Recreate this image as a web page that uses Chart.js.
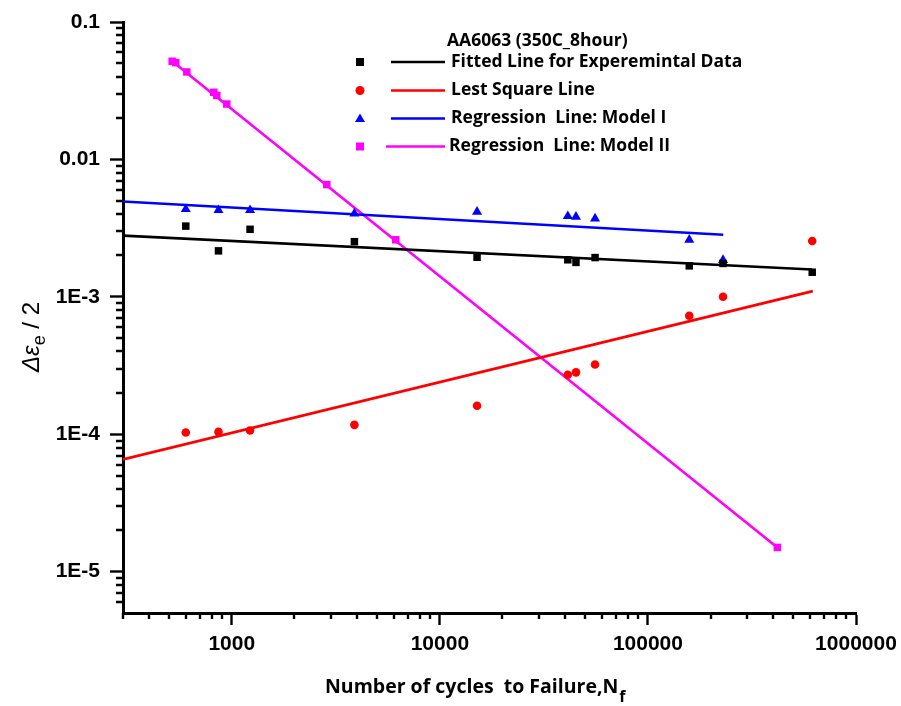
<!DOCTYPE html>
<html>
<head>
<meta charset="utf-8">
<title>AA6063 (350C_8hour)</title>
<script src="https://cdn.jsdelivr.net/npm/chart.js@4.4.1/dist/chart.umd.min.js"></script>
<style>
  html, body { margin: 0; padding: 0; background: #fff; }
  #wrap { width: 901px; height: 706px; position: relative; }
</style>
</head>
<body>
<div id="wrap"><canvas id="fatigue-chart"></canvas></div>
<script>
// cycles to failure for the experimental points
const cycles = [601, 863, 1224, 3884, 15090, 41200, 45100, 55700, 158000, 229600, 616000];
const expStrain = [3.27e-3, 2.16e-3, 3.10e-3, 2.52e-3, 1.94e-3, 1.86e-3, 1.78e-3, 1.93e-3, 1.68e-3, 1.75e-3, 1.51e-3];
const lsqStrain = [1.03e-4, 1.04e-4, 1.065e-4, 1.17e-4, 1.61e-4, 2.71e-4, 2.82e-4, 3.22e-4, 7.29e-4, 1.00e-3, 2.55e-3];
const model1Cycles = [601, 863, 1224, 3884, 15090, 41200, 45100, 55700, 158000, 229600];
const model1Strain = [4.34e-3, 4.27e-3, 4.27e-3, 4.03e-3, 4.15e-3, 3.86e-3, 3.82e-3, 3.71e-3, 2.60e-3, 1.85e-3];
const model2Cycles = [517, 538, 608, 819, 847, 946, 2861, 6138, 418800];
const model2Strain = [0.0518, 0.0506, 0.0433, 0.0308, 0.0292, 0.0253, 6.56e-3, 2.60e-3, 1.50e-5];

// fitted lines (end points)
const expFitCycles = [300, 615000];
const expFitStrain = [2.79e-3, 1.58e-3];
const lsqFitCycles = [300, 620000];
const lsqFitStrain = [6.56e-5, 1.10e-3];
const model1FitCycles = [300, 230000];
const model1FitStrain = [4.94e-3, 2.83e-3];
const model2FitCycles = [517, 418800];
const model2FitStrain = [0.0518, 1.50e-5];

const xTickValues = [1000, 10000, 100000, 1000000];
const xTickLabels = ['1000', '10000', '100000', '1000000'];
const yTickValues = [1e-5, 1e-4, 1e-3, 1e-2, 1e-1];
const yTickLabels = ['1E-5', '1E-4', '1E-3', '0.01', '0.1'];
const minorSteps = [2, 3, 4, 5, 6, 7, 8, 9];

const legendTitle = 'AA6063 (350C_8hour)';
const legendNames = ['Fitted Line for Experemintal Data', 'Lest Square Line', 'Regression  Line: Model I', 'Regression  Line: Model II'];
const seriesColors = ['#000000', '#ff0000', '#0000ff', '#ff00ff'];

function toPoints(xs, ys) {
  return xs.map((x, i) => ({ x: x, y: ys[i] }));
}

function markerSet(label, xs, ys, color, style, radius) {
  return {
    label: label,
    data: toPoints(xs, ys),
    pointStyle: style,
    pointRadius: radius,
    pointHoverRadius: radius,
    backgroundColor: color,
    borderColor: color,
    borderWidth: 0,
    showLine: false
  };
}

function lineSet(label, xs, ys, color) {
  return {
    label: label,
    data: toPoints(xs, ys),
    borderColor: color,
    backgroundColor: color,
    borderWidth: 2.6,
    pointRadius: 0,
    showLine: true,
    tension: 0
  };
}

// Origin style decorations: minor ticks, axis titles and the legend block
const decorations = {
  id: 'decorations',
  afterDraw(chart) {
    const ctx = chart.ctx;
    const xs = chart.scales.x;
    const ys = chart.scales.y;
    const area = chart.chartArea;

    ctx.save();
    ctx.strokeStyle = '#000';
    ctx.lineWidth = 2.4;
    ctx.beginPath();
    for (let d = 100; d < 1000000; d *= 10) {
      minorSteps.forEach(s => {
        const v = d * s;
        if (v < xs.min || v > xs.max) return;
        const px = Math.round(xs.getPixelForValue(v));
        ctx.moveTo(px, area.bottom);
        ctx.lineTo(px, area.bottom + 6);
      });
    }
    for (let d = 1e-6; d < 0.1; d *= 10) {
      minorSteps.forEach(s => {
        const v = d * s;
        if (v < ys.min || v > ys.max) return;
        const py = Math.round(ys.getPixelForValue(v));
        ctx.moveTo(area.left, py);
        ctx.lineTo(area.left - 7, py);
      });
    }
    ctx.stroke();

    // x axis title with subscript
    ctx.fillStyle = '#000';
    ctx.textBaseline = 'alphabetic';
    ctx.textAlign = 'left';
    ctx.font = 'bold 19.5px "Open Sans"';
    const xt = 'Number of cycles  to Failure,N';
    ctx.fillText(xt, 325, 693);
    const xw = ctx.measureText(xt).width;
    ctx.font = 'bold 16px "Open Sans"';
    ctx.fillText('f', 325 + xw + 1, 702);

    // y axis title, rotated
    ctx.save();
    const mainFont = 'italic 24px "Liberation Sans"';
    const subFont = '18px "Liberation Sans"';
    ctx.font = mainFont;
    const w1 = ctx.measureText('\u0394\u03b5').width;
    ctx.font = subFont;
    const w2 = ctx.measureText('e').width;
    ctx.font = '24px "Liberation Sans"';
    const w3 = ctx.measureText(' / 2').width;
    const total = w1 + w2 + w3;
    ctx.translate(39, 337 + total / 2);
    ctx.rotate(-Math.PI / 2);
    ctx.font = mainFont;
    ctx.fillText('\u0394\u03b5', 0, 0);
    ctx.font = subFont;
    ctx.fillText('e', w1, 6);
    ctx.font = '24px "Liberation Sans"';
    ctx.fillText(' / 2', w1 + w2, 0);
    ctx.restore();

    // legend
    ctx.font = 'bold 17.5px "Open Sans"';
    ctx.textBaseline = 'middle';
    ctx.fillText(legendTitle, 447, 41);
    const rows = [62, 90.5, 118.5, 146.5];
    const styles = ['rect', 'circle', 'triangle', 'rect'];
    rows.forEach((ry, i) => {
      const c = seriesColors[i];
      ctx.fillStyle = c;
      ctx.strokeStyle = c;
      const mx = 360;
      ctx.beginPath();
      if (styles[i] === 'rect') {
        ctx.rect(mx - 4, ry - 4, 8, 8);
      } else if (styles[i] === 'circle') {
        ctx.arc(mx, ry, 4.5, 0, Math.PI * 2);
      } else {
        ctx.moveTo(mx, ry - 5);
        ctx.lineTo(mx + 5, ry + 3.5);
        ctx.lineTo(mx - 5, ry + 3.5);
        ctx.closePath();
      }
      ctx.fill();
      ctx.lineWidth = 2.6;
      ctx.beginPath();
      ctx.moveTo(i === 3 ? 386 : 391, ry);
      ctx.lineTo(445, ry);
      ctx.stroke();
      ctx.fillStyle = '#000';
      ctx.fillText(legendNames[i], i === 3 ? 449 : 451, ry);
    });
    ctx.restore();
  }
};

const tickFont = { family: '"Liberation Sans", Arial, sans-serif', size: 21, weight: 'bold' };

new Chart(document.getElementById('fatigue-chart'), {
  type: 'scatter',
  data: {
    datasets: [
      markerSet('exp', cycles, expStrain, seriesColors[0], 'rect', 5.3),
      markerSet('lsq', cycles, lsqStrain, seriesColors[1], 'circle', 4.3),
      markerSet('m1', model1Cycles, model1Strain, seriesColors[2], 'triangle', 5.8),
      markerSet('m2', model2Cycles, model2Strain, seriesColors[3], 'rect', 5.3),
      lineSet(legendNames[0], expFitCycles, expFitStrain, seriesColors[0]),
      lineSet(legendNames[1], lsqFitCycles, lsqFitStrain, seriesColors[1]),
      lineSet(legendNames[2], model1FitCycles, model1FitStrain, seriesColors[2]),
      lineSet(legendNames[3], model2FitCycles, model2FitStrain, seriesColors[3])
    ]
  },
  options: {
    responsive: true,
    maintainAspectRatio: false,
    animation: false,
    devicePixelRatio: 1,
    layout: { padding: { left: 0, top: 22, right: 45, bottom: 0 } },
    plugins: {
      legend: { display: false },
      tooltip: { enabled: false }
    },
    scales: {
      x: {
        type: 'logarithmic',
        position: 'bottom',
        min: 300,
        max: 1000000,
        border: { display: true, color: '#000', width: 3 },
        grid: { drawOnChartArea: false, drawTicks: true, tickLength: 12, tickWidth: 2.4, tickColor: '#000' },
        afterBuildTicks: scale => { scale.ticks = xTickValues.map(v => ({ value: v })); },
        afterFit: scale => {
          scale.height = 93;
          scale.paddingLeft = 0;
          scale.paddingRight = 0;
        },
        ticks: {
          autoSkip: false,
          maxRotation: 0,
          minRotation: 0,
          padding: 7,
          color: '#000',
          font: tickFont,
          callback: value => xTickLabels[xTickValues.indexOf(value)]
        }
      },
      y: {
        type: 'logarithmic',
        position: 'left',
        min: 5e-6,
        max: 0.1,
        border: { display: true, color: '#000', width: 3 },
        grid: { drawOnChartArea: false, drawTicks: true, tickLength: 13, tickWidth: 2.4, tickColor: '#000' },
        afterBuildTicks: scale => { scale.ticks = yTickValues.map(v => ({ value: v })); },
        afterFit: scale => {
          scale.width = 123;
          scale.paddingTop = 0;
          scale.paddingBottom = 0;
        },
        ticks: {
          autoSkip: false,
          padding: 10,
          color: '#000',
          font: tickFont,
          callback: value => yTickLabels[yTickValues.indexOf(value)]
        }
      }
    }
  },
  plugins: [decorations]
});
</script>
</body>
</html>
